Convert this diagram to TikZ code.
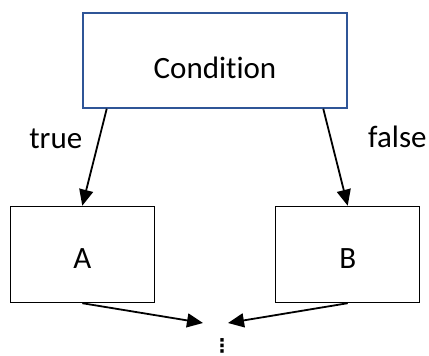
\documentclass[tikz,border=0pt]{standalone}
\usepackage{fontspec}
\setmainfont{Carlito}[Ligatures=NoCommon]
\newfontfamily\dotsfont{DejaVu Sans}
\usepackage{tikz}
\usetikzlibrary{calc,positioning,arrows.meta}
\definecolor{condblue}{RGB}{47,85,151}

\begin{document}
\begin{tikzpicture}[x=1pt, y=1pt, align=center,
    font=\fontsize{31}{36}\selectfont,
    box/.style={draw, line width=1.5pt, minimum width=144pt, minimum height=96pt, text height=28pt, text depth=0pt},
    flow/.style={-{Triangle[length=16pt, width=14pt]}, line width=1.8pt},
    lbl/.style={inner sep=2pt}]
    \useasboundingbox (0,0) rectangle (429,-356);

    \node [box, draw=condblue, line width=1.4pt, minimum width=264pt, minimum height=95pt, text height=36pt] (cond) at (215,-60.5) {Condition};
    \node [box, below=97pt of cond.south west] (a) {A};
    \node [box, below=97pt of cond.south east] (b) {B};

    \node [font=\dotsfont\bfseries\fontsize{19}{22}\selectfont, inner sep=0pt] (cont) at (222,-345.5) {⋮};
    \coordinate (inl) at (203,-323);
    \coordinate (inr) at (228,-323);

    \draw[flow] (cond.-156) -- node[lbl, left=14pt, pos=0.31] {true} (a.north);
    \draw[flow] (cond.-24) -- node[lbl, right=35pt, pos=0.29] {false} (b.north);
    % both branches join again
    \draw[flow] (a.south) -- (inl);
    \draw[flow] (b.south) -- (inr);
\end{tikzpicture}
\end{document}
